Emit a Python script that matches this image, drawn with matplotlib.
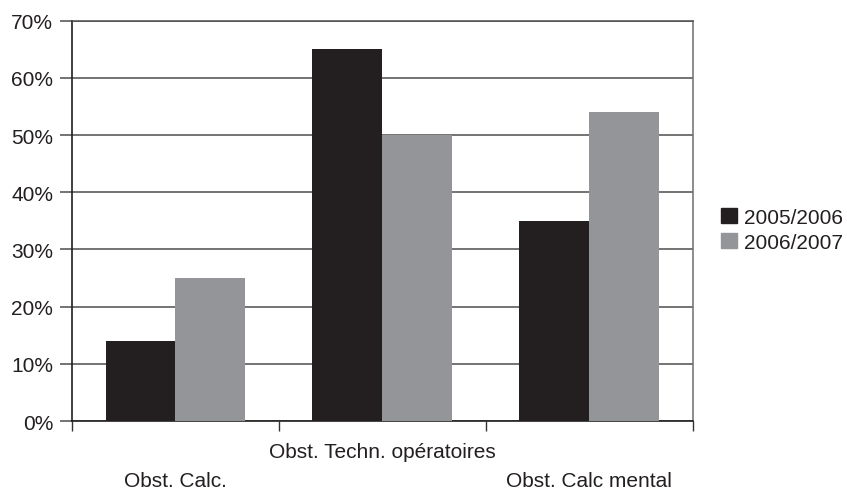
import numpy as np
import matplotlib.pyplot as plt
from matplotlib.patches import Patch

plt.rcParams['font.family'] = ['Liberation Sans', 'DejaVu Sans']

categories = ['Obst. Calc.', 'Obst. Techn. opératoires', 'Obst. Calc mental']
series_names = ['2005/2006', '2006/2007']
values_2005 = [14, 65, 35]
values_2006 = [25, 50, 54]
y_ticks = [0, 10, 20, 30, 40, 50, 60, 70]

dark = '#231f20'
grey = '#939598'
text_col = '#231f20'
fs = 15

fig = plt.figure(figsize=(8.47, 4.89), dpi=100)
ax = fig.add_axes([0.085, 0.137, 0.733, 0.8186])

x = np.arange(len(categories))
w = 0.338
ax.bar(x - w / 2, values_2005, width=w, color=dark, zorder=3)
ax.bar(x + w / 2, values_2006, width=w, color=grey, zorder=3)

ax.set_xlim(-0.5, len(categories) - 0.5)
ax.set_ylim(0, 70)

# horizontal gridlines, extended to the left of the axis like tick marks
ax.set_yticks(y_ticks)
ax.set_yticklabels([f'{v}%' for v in y_ticks], fontsize=fs, color=text_col)
ax.yaxis.grid(True, color='#4d4d4d', linewidth=1.1, zorder=0)
ax.tick_params(axis='y', length=8.5, width=1.1, color='#4d4d4d', pad=5)

# boundary ticks between categories, staggered category labels
ax.set_xticks(np.arange(len(categories) + 1) - 0.5)
ax.set_xticklabels([])
ax.tick_params(axis='x', which='major', length=7, width=1, color='#333333')
ax.set_xticks(x, minor=True)
stagger = [('\n' + c if i % 2 == 0 else c) for i, c in enumerate(categories)]
ax.set_xticklabels(stagger, minor=True, fontsize=fs, color=text_col,
                   linespacing=1.65)
ax.tick_params(axis='x', which='minor', length=0, pad=15)

for side in ['left', 'bottom']:
    ax.spines[side].set_color('#231f20')
    ax.spines[side].set_linewidth(1.2)
ax.spines['top'].set_color('#4d4d4d')
ax.spines['top'].set_linewidth(1.1)
ax.spines['right'].set_color('#6d6d6d')
ax.spines['right'].set_linewidth(1.1)

handles = [Patch(color=dark), Patch(color=grey)]
ax.legend(handles, series_names, loc='center left',
          bbox_to_anchor=(1.032, 0.478), frameon=False, fontsize=fs,
          handlelength=0.75, handleheight=0.75, handletextpad=0.35,
          labelspacing=0.3, borderaxespad=0, labelcolor=text_col)

fig.savefig('out.png', dpi=100)
